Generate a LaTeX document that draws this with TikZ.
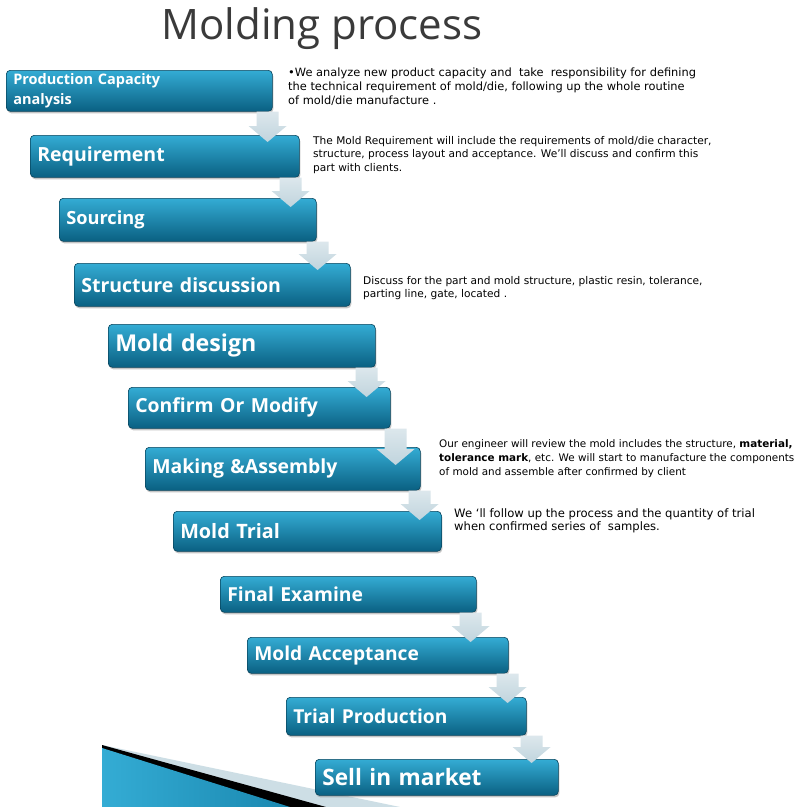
\documentclass[tikz,border=0pt]{standalone}
\usepackage{fontspec}
\setmainfont{DejaVu Sans}
\newfontfamily\titlefont{Open Sans}
\newfontfamily\boxfont{Open Sans}
\usetikzlibrary{calc,shadows}
\definecolor{boxtop}{RGB}{52,172,212}
\definecolor{boxmid}{RGB}{26,136,176}
\definecolor{boxbottom}{RGB}{10,96,130}
\definecolor{arrowgray}{RGB}{192,212,221}
\definecolor{titlegray}{RGB}{58,58,58}
\definecolor{wedgelight}{RGB}{205,222,229}

\begin{document}
\begin{tikzpicture}[x=1pt,y=-1pt,
  stepbox/.style={anchor=north west, rounded corners=4pt, top color=boxtop, middle color=boxmid,
    bottom color=boxbottom, draw=boxbottom!70!black, line width=.6pt,
    drop shadow={shadow xshift=1pt, shadow yshift=-2pt, opacity=.45},
    text=white, inner xsep=7pt, inner ysep=0pt, align=left},
  note/.style={anchor=north west, inner sep=0pt, align=left},
  flowarrow/.style={top color=arrowgray!55!white, bottom color=arrowgray, draw=none}]
  \useasboundingbox (0,0) rectangle (800,807);
  \fill[white] (0,0) rectangle (800,807);

  % corner wedge
  \fill[wedgelight] (102,745) -- (400,807) -- (102,807) -- cycle;
  \fill[black] (102,745) -- (326,807) -- (102,807) -- cycle;
  \shade[left color=boxtop, right color=boxmid] (102,748) -- (290,807) -- (102,807) -- cycle;

  \node[font=\titlefont\fontsize{42}{42}\selectfont, text=titlegray, anchor=base] (title) at (322,39) {Molding process};

  \foreach \n/\px/\py/\w/\h/\s/\t in {prod/6/70/266/41/14.5/{Production Capacity\\analysis},
      req/30/135/269/42/19.5/Requirement, src/59/198/257/43/18.2/Sourcing,
      struct/74/263/276/43/19.5/Structure discussion, design/108/324/267/43/23.2/Mold design,
      confirm/128/387/262/41/19.4/Confirm Or Modify, making/145/447/275/43/19.4/Making \&Assembly,
      trial/173/511/268/40/19.8/Mold Trial, exam/220/576/256/36/19.3/Final Examine,
      accept/247/637/261/36/19.2/Mold Acceptance, prodn/286/697/240/38/19.2/Trial Production,
      sell/315/759/243/36/22.6/Sell in market}
    \node[stepbox, text width=\w pt-14pt, minimum height=\h pt,
      font=\boxfont\bfseries\fontsize{\s}{20}\selectfont] (\n) at (\px,\py) {\t};

  % arrows between the steps
  \foreach \a/\b/\dx/\o in {prod/req/-5/7, req/src/-9/9, src/struct/1/7,
      design/confirm/-9/10, confirm/making/5/18, making/trial/-1/9,
      exam/accept/-6/5, accept/prodn/-1/6, prodn/sell/5/4}
    \path[flowarrow] let \p1=($(\a.south east)+(\dx,0)$), \p2=(\b.north) in
      ({\x1-11pt},\y1) -- ({\x1+11pt},\y1) -- ({\x1+11pt},{\y2-\o pt+16pt})
      -- ({\x1+19pt},{\y2-\o pt+16pt}) -- (\x1,{\y2-\o pt})
      -- ({\x1-19pt},{\y2-\o pt+16pt}) -- ({\x1-11pt},{\y2-\o pt+16pt}) -- cycle;

  \node[note, font=\fontsize{11.4}{14}\selectfont] (note1) at (288,68)
    {•We analyze new product capacity and\ \ take\ \ responsibility for defining\\
     the technical requirement of mold/die, following up the whole routine\\
     of mold/die manufacture .};
  \node[note, font=\fontsize{10.6}{13.5}\selectfont] (note2) at (313,136)
    {The Mold Requirement will include the requirements of mold/die character,\\
     structure, process layout and acceptance. We'll discuss and confirm this\\
     part with clients.};
  \node[note, font=\fontsize{10.6}{13.5}\selectfont] (note3) at (363,276)
    {Discuss for the part and mold structure, plastic resin, tolerance,\\
     parting line, gate, located .};
  \node[note, font=\fontsize{10.4}{14}\selectfont] (note4) at (439,439)
    {Our engineer will review the mold includes the structure, \textbf{material,}\\
     \textbf{tolerance mark}, etc. We will start to manufacture the components\\
     of mold and assemble after confirmed by client};
  \node[note, font=\fontsize{11.6}{13.5}\selectfont] (note5) at (454,508)
    {We ‘ll follow up the process and the quantity of trial\\
     when confirmed series of\ \ samples.};
\end{tikzpicture}
\end{document}
